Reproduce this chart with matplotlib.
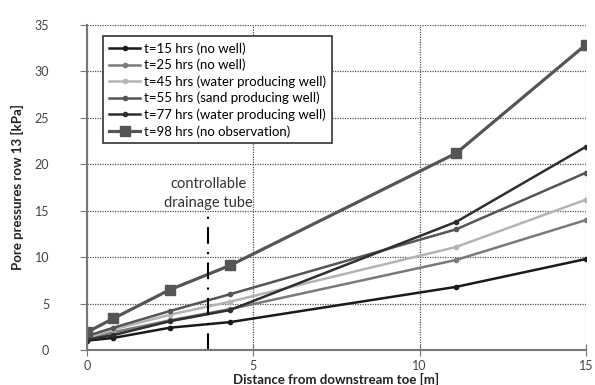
import matplotlib.pyplot as plt

plt.rcParams['font.family'] = ['Lato', 'DejaVu Sans']

# distance from downstream toe [m]
dist = [0, 0.8, 2.5, 4.3, 11.1, 15]

t15 = [1.0, 1.3, 2.4, 3.0, 6.8, 9.8]
t25 = [1.2, 1.9, 3.2, 4.4, 9.7, 14.0]
t45 = [1.3, 2.2, 3.8, 5.2, 11.1, 16.2]
t55 = [1.5, 2.4, 4.2, 6.0, 13.0, 19.1]
t77 = [1.1, 1.6, 3.1, 4.3, 13.8, 21.9]
t98 = [1.9, 3.4, 6.5, 9.1, 21.2, 32.9]

labels = ["t=15 hrs (no well)", "t=25 hrs (no well)",
          "t=45 hrs (water producing well)", "t=55 hrs (sand producing well)",
          "t=77 hrs (water producing well)", "t=98 hrs (no observation)"]
series = [t15, t25, t45, t55, t77, t98]
colors = ["#1a1a1a", "#7a7a7a", "#b4b4b4", "#555555", "#2e2e2e", "#555555"]

tube_x = 3.65

fig = plt.figure(figsize=(5.95, 3.85), dpi=100)
ax = fig.add_axes([0.146, 0.091, 0.839, 0.844])

for vals, lab, col in zip(series[:5], labels[:5], colors[:5]):
    ax.plot(dist, vals, color=col, linewidth=1.8, marker="o", markersize=3, label=lab)
ax.plot(dist, t98, color=colors[5], linewidth=2.3, marker="s", markersize=7, label=labels[5])

ax.plot([tube_x, tube_x], [0, 14.8], color="black", linewidth=1.5, linestyle=(0, (8, 4, 1, 4)))
ax.text(tube_x, 16.9, "controllable\ndrainage tube", ha="center", va="center",
        fontsize=10.5, color="#333333", linespacing=1.45)

ax.set_xlim(0, 15)
ax.set_ylim(0, 35)
ax.set_xticks([0, 5, 10, 15])
ax.set_yticks(range(0, 36, 5))
ax.grid(True, color="#555555", linestyle=(0, (1, 1)), linewidth=0.9)
ax.set_axisbelow(True)
for s in ["top", "right"]:
    ax.spines[s].set_visible(False)
for s in ["left", "bottom"]:
    ax.spines[s].set_color("#777777")
    ax.spines[s].set_linewidth(1.5)
ax.tick_params(axis="y", direction="out", length=5, pad=22, colors="#777777", labelcolor="#444444", labelsize=9)
ax.tick_params(axis="x", direction="inout", length=8, pad=3, colors="#777777", labelcolor="#444444", labelsize=9)

ax.set_xlabel("Distance from downstream toe [m]", fontsize=9.5, fontweight="bold", labelpad=1, color="#222222")
ax.set_ylabel("Pore pressures row 13 [kPa]", fontsize=9.5, fontweight="bold", labelpad=8, color="#222222")

leg = ax.legend(loc="upper left", bbox_to_anchor=(0.02, 0.985), fontsize=9.5, frameon=True,
                fancybox=False, edgecolor="#333333", handlelength=2.3, handletextpad=0.3,
                borderpad=0.45, labelspacing=0.3, framealpha=1)
leg.get_frame().set_linewidth(1.2)

fig.savefig("out.png", dpi=100)
